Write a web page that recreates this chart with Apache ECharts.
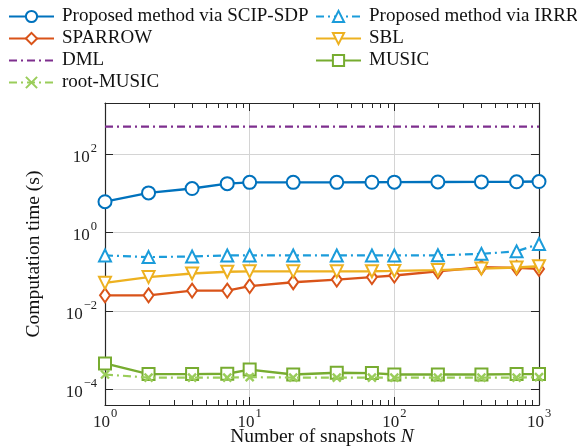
<!DOCTYPE html>
<html>
<head>
<meta charset="utf-8">
<script src="https://cdn.jsdelivr.net/npm/echarts@6/dist/echarts.min.js"></script>
<style>
  html, body { margin: 0; padding: 0; background: #fff; }
  #chart { width: 577px; height: 447px; }
</style>
</head>
<body>
<div id="chart"></div>
<script>
// Number of snapshots N
const snapshots = [1, 2, 4, 7, 10, 20, 40, 70, 100, 200, 400, 700, 1000];

// Computation time (s) for each method
const scipSdp   = [6.1, 10.2, 13.2, 17.6, 19.0, 19.0, 19.0, 19.1, 19.2, 19.4, 19.5, 19.6, 19.9];
const irrr      = [0.26, 0.236, 0.245, 0.26, 0.26, 0.26, 0.26, 0.26, 0.26, 0.262, 0.285, 0.33, 0.51];
const sparrow   = [0.025, 0.025, 0.033, 0.033, 0.043, 0.054, 0.063, 0.073, 0.080, 0.102, 0.130, 0.125, 0.118];
const sbl       = [0.052, 0.073, 0.090, 0.100, 0.102, 0.102, 0.102, 0.103, 0.105, 0.110, 0.120, 0.128, 0.138];
const dml       = [500, 500, 500, 500, 500, 500, 500, 500, 500, 500, 500, 500, 500];
const music     = [4.6e-4, 2.45e-4, 2.45e-4, 2.5e-4, 3.2e-4, 2.4e-4, 2.65e-4, 2.6e-4, 2.4e-4, 2.4e-4, 2.4e-4, 2.45e-4, 2.45e-4];
const rootMusic = [2.4e-4, 2.0e-4, 2.0e-4, 2.0e-4, 2.05e-4, 2.0e-4, 2.0e-4, 2.0e-4, 2.0e-4, 2.0e-4, 2.0e-4, 2.0e-4, 2.05e-4];

const names = [
  'Proposed method via SCIP-SDP', 'Proposed method via IRRR',
  'SPARROW', 'SBL', 'DML', 'MUSIC', 'root-MUSIC'
];

const SERIF = '"Liberation Serif", "Times New Roman", serif';
const AXIS_COLOR = '#262626';
const GRID_COLOR = '#d4d4d4';
const CROSS = 'path://M0,0L10,10M10,0L0,10';
const BLANK = 'path://M0,0L10,0L10,10L0,10Z';

function pairs(ys) { return snapshots.map((x, i) => [x, ys[i]]); }

function powerLabel(v) {
  const e = Math.round(Math.log10(v));
  const s = e < 0 ? '\u2212' + (-e) : String(e);
  return '{b|10}{s|' + s + '}';
}
const powerRich = {
  b: { fontFamily: SERIF, fontSize: 17, color: '#222', lineHeight: 24, verticalAlign: 'bottom' },
  s: { fontFamily: SERIF, fontSize: 12.5, color: '#222', lineHeight: 24, verticalAlign: 'top', padding: [0, 0, 0, 1] }
};

function lineSeries(name, ys, color, opts) {
  return Object.assign({
    name: name,
    type: 'line',
    data: pairs(ys),
    color: color,
    symbolSize: 12,
    showAllSymbol: true,
    lineStyle: { color: color, width: 2.4 },
    itemStyle: { color: color, borderColor: color, borderWidth: 2.4 },
    emphasis: { disabled: true },
    animation: false
  }, opts);
}

const chart = echarts.init(document.getElementById('chart'), null, { renderer: 'canvas' });

const xCommon = {
  type: 'log', logBase: 10, min: 1, max: 1000,
  axisLine: { show: true, onZero: false, lineStyle: { color: AXIS_COLOR, width: 1.2 } },
  axisTick: { show: true, inside: true, length: 8, lineStyle: { color: AXIS_COLOR, width: 1 } },
  splitLine: { show: false }
};
const yCommon = {
  type: 'log', logBase: 100, min: 4e-5, max: 2000,
  axisLine: { show: true, onZero: false, lineStyle: { color: AXIS_COLOR, width: 1.2 } },
  axisTick: { show: true, inside: true, length: 8, lineStyle: { color: AXIS_COLOR, width: 1 } },
  splitLine: { show: false }
};

const legendText = { fontFamily: SERIF, fontSize: 19, color: '#111', padding: [0, 0, 0, 3] };

const option = {
  backgroundColor: '#fff',
  animation: false,
  textStyle: { fontFamily: SERIF },
  grid: { left: 105, right: 38, top: 103, bottom: 42, containLabel: false, outerBoundsMode: 'none' },
  legend: [
    {
      data: [names[0], names[2], names[4], names[6]],
      orient: 'vertical', left: 8, top: 7, padding: 0,
      itemWidth: 45, itemHeight: 14, itemGap: 3,
      textStyle: legendText,
      selectedMode: false
    },
    {
      data: [names[1], names[3], names[5]],
      orient: 'vertical', left: 315, top: 7, padding: 0,
      itemWidth: 45, itemHeight: 14, itemGap: 3,
      textStyle: legendText,
      selectedMode: false
    }
  ],
  xAxis: [
    Object.assign({}, xCommon, {
      position: 'bottom',
      name: '{t|Number of snapshots }{i|N}',
      nameLocation: 'middle', nameGap: 22, nameMoveOverlap: false,
      nameTextStyle: {
        rich: {
          t: { fontFamily: SERIF, fontSize: 19.5, color: '#111' },
          i: { fontFamily: SERIF, fontSize: 19.5, color: '#111', fontStyle: 'italic' }
        }
      },
      axisLabel: { show: true, margin: 2, formatter: powerLabel, rich: powerRich },
      splitLine: { show: true, showMinLine: false, showMaxLine: false, lineStyle: { color: GRID_COLOR, width: 1 } }
    }),
    Object.assign({}, xCommon, { position: 'top', axisLabel: { show: false } })
  ],
  yAxis: [
    Object.assign({}, yCommon, {
      position: 'left',
      name: 'Computation time (s)',
      nameLocation: 'middle', nameGap: 61, nameMoveOverlap: false,
      nameTextStyle: { fontFamily: SERIF, fontSize: 19.5, color: '#111' },
      axisLabel: { show: true, margin: 8, showMinLabel: false, showMaxLabel: false, formatter: powerLabel, rich: powerRich },
      splitLine: { show: true, showMinLine: false, showMaxLine: false, lineStyle: { color: GRID_COLOR, width: 1 } }
    }),
    Object.assign({}, yCommon, { position: 'right', axisLabel: { show: false } })
  ],
  series: [
    lineSeries(names[0], scipSdp, '#0072BD', { symbol: 'emptyCircle', symbolSize: 13, z: 9 }),
    lineSeries(names[1], irrr, '#1B9CDA', {
      symbol: 'emptyTriangle', symbolSize: 12,
      lineStyle: { color: '#1B9CDA', width: 2.2, type: [8, 4, 2, 4] }, z: 8
    }),
    lineSeries(names[2], sparrow, '#D95319', { symbol: 'emptyDiamond', symbolSize: [10, 14], z: 5 }),
    lineSeries(names[3], sbl, '#EDB120', { symbol: 'emptyTriangle', symbolRotate: 180, symbolSize: 12, z: 6 }),
    lineSeries(names[4], dml, '#7E2F8E', {
      symbol: BLANK, showSymbol: false,
      itemStyle: { color: 'rgba(0,0,0,0)', borderColor: 'rgba(0,0,0,0)', borderWidth: 0 },
      lineStyle: { color: '#7E2F8E', width: 2.4, type: [8, 4, 2, 4] }, z: 4
    }),
    lineSeries(names[5], music, '#77AC30', { symbol: 'emptyRect', symbolSize: 12, z: 3 }),
    lineSeries(names[6], rootMusic, '#9ACD5A', {
      symbol: CROSS, symbolSize: 8,
      lineStyle: { color: '#9ACD5A', width: 2.2, type: [8, 4, 2, 4] },
      itemStyle: { color: 'none', borderColor: '#9ACD5A', borderWidth: 2.4 }, z: 4
    })
  ]
};

chart.setOption(option);

// Minor ticks of the logarithmic x axis (2..9 within each decade), bottom and top
function drawMinorTicks() {
  const rect = chart.getModel().getComponent('grid', 0).coordinateSystem.getRect();
  const elements = [];
  [1, 10, 100].forEach(function (d) {
    for (let k = 2; k <= 9; k++) {
      const px = chart.convertToPixel({ xAxisIndex: 0 }, d * k);
      const x = Math.round(px) + 0.5;
      elements.push({ type: 'line', silent: true, z: 50,
        shape: { x1: x, y1: rect.y + rect.height, x2: x, y2: rect.y + rect.height - 5 },
        style: { stroke: AXIS_COLOR, lineWidth: 1 } });
      elements.push({ type: 'line', silent: true, z: 50,
        shape: { x1: x, y1: rect.y, x2: x, y2: rect.y + 5 },
        style: { stroke: AXIS_COLOR, lineWidth: 1 } });
    }
  });
  chart.setOption({ graphic: elements });
}
drawMinorTicks();
</script>
</body>
</html>
